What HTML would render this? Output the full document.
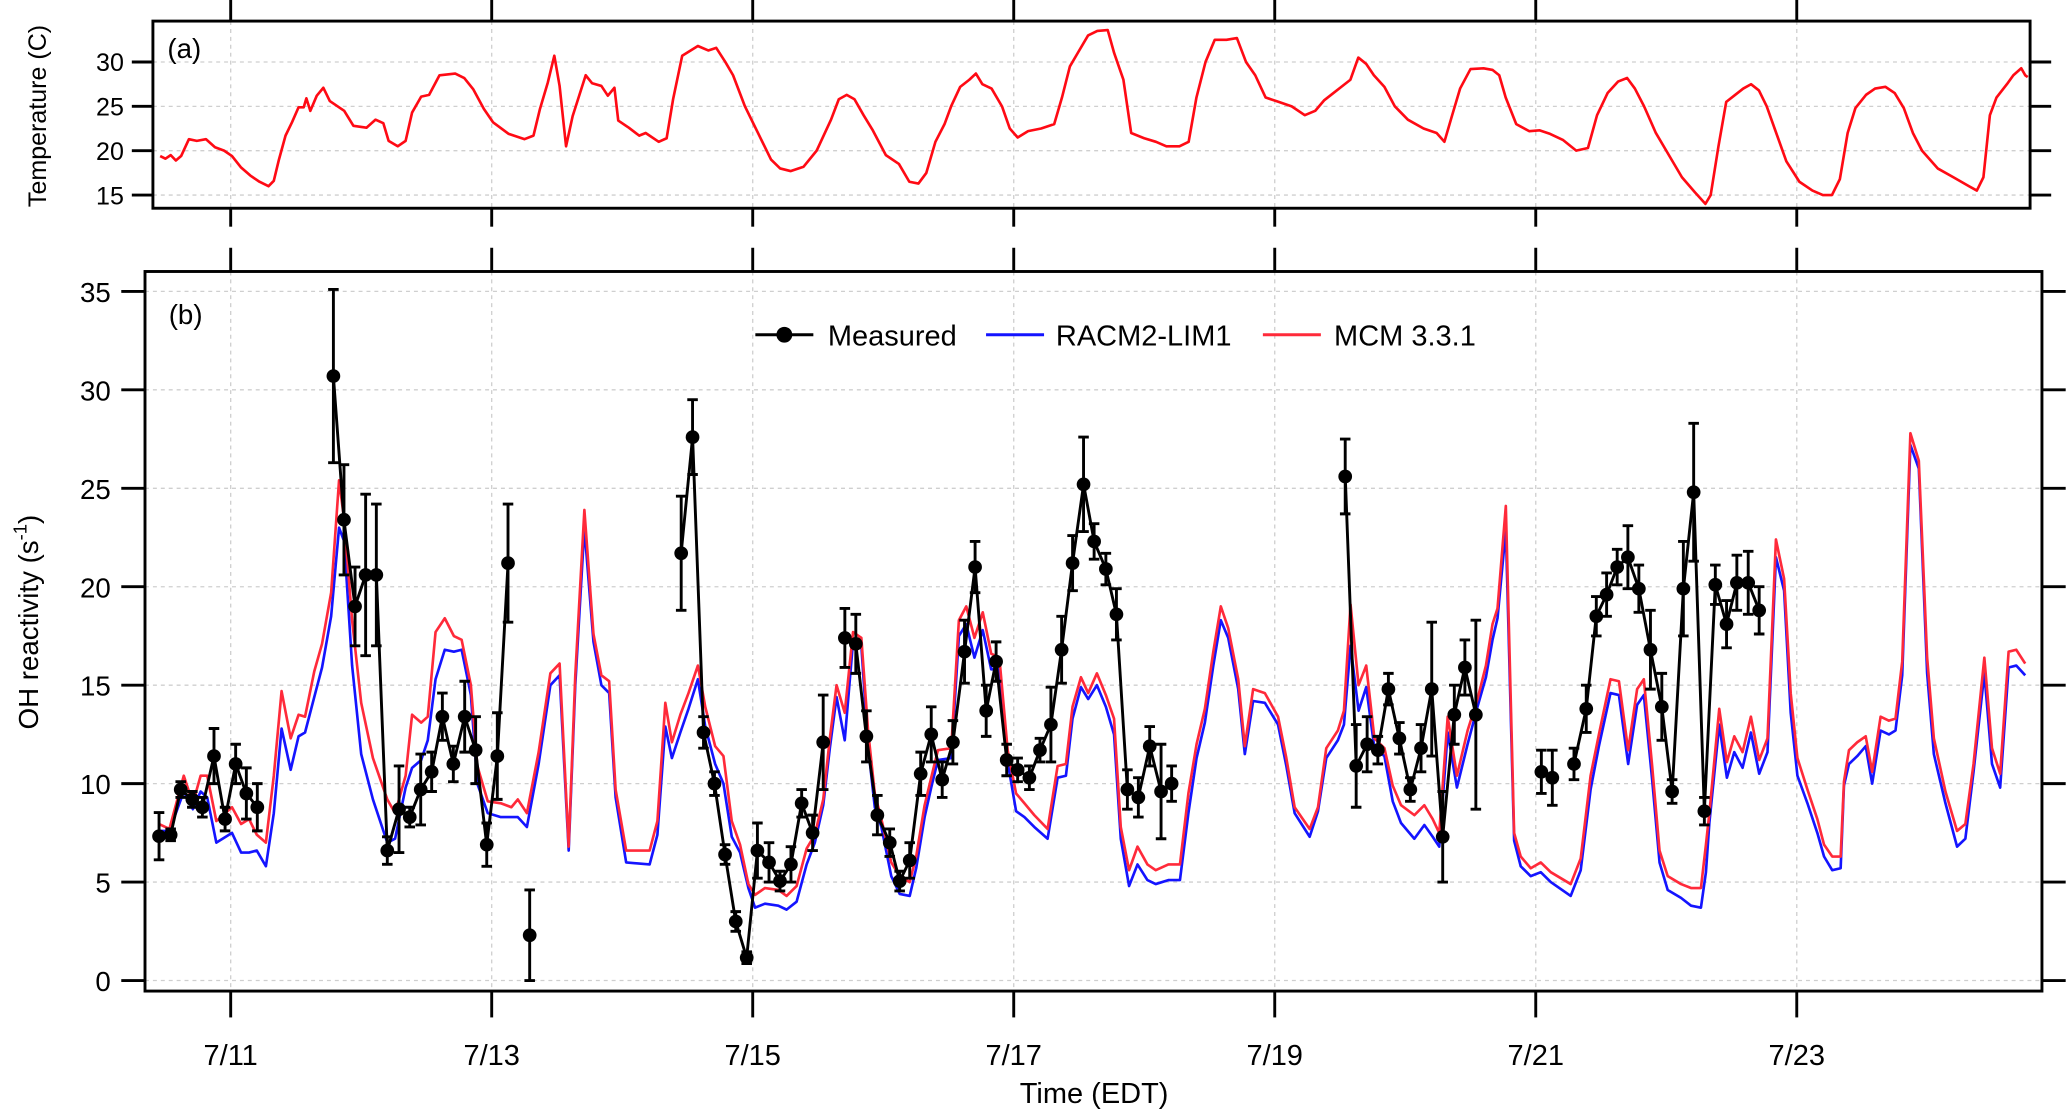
<!DOCTYPE html>
<html><head><meta charset="utf-8"><style>
html,body{margin:0;padding:0;background:#fff;}
svg{display:block;font-family:"Liberation Sans",Arial,sans-serif;}
</style></head><body>
<svg id="chart" width="2067" height="1111" viewBox="0 0 1568 843" preserveAspectRatio="none" xmlns="http://www.w3.org/2000/svg">
<g id="grid"></g>
<g id="frames"></g>
<g id="series"></g>
<text x="127" y="44" font-size="21">(a)</text>
<text x="128" y="246" font-size="21">(b)</text>
<text transform="translate(35,88) rotate(-90)" text-anchor="middle" font-size="19">Temperature (C)</text>
<text transform="translate(29,472) rotate(-90)" text-anchor="middle" font-size="21">OH reactivity (s<tspan dy="-9" font-size="14">-1</tspan><tspan dy="9">)</tspan></text>
<text x="830" y="837" text-anchor="middle" font-size="22">Time (EDT)</text>
<g>
 <g>
  <line x1="573" y1="254" x2="617" y2="254" stroke="#000" stroke-width="2.2"/>
  <circle cx="595" cy="254" r="6" fill="#000"/>
  <text x="628" y="262" font-size="22">Measured</text>
 </g>
 <g>
  <line x1="748" y1="254" x2="792" y2="254" stroke="#1414ff" stroke-width="2.2"/>
  <text x="801" y="262" font-size="22">RACM2-LIM1</text>
 </g>
 <g>
  <line x1="958" y1="254" x2="1002" y2="254" stroke="#ff2a3a" stroke-width="2.2"/>
  <text x="1012" y="262" font-size="22">MCM 3.3.1</text>
 </g>
</g>
</svg>
<script>
// ---- data (time in days of July, local) ----
const dayTicks = [11,13,15,17,19,21,23];
const dayLabels = ["7/11","7/13","7/15","7/17","7/19","7/21","7/23"];
const tempTicks = [15,20,25,30];
const ohTicks = [0,5,10,15,20,25,30,35];

const tempTime = [10.46,10.50,10.54,10.58,10.62,10.68,10.74,10.81,10.88,10.95,11.01,11.08,11.15,11.22,11.29,11.33,11.37,11.42,11.47,11.52,11.56,11.58,11.61,11.66,11.71,11.76,11.87,11.94,12.04,12.11,12.17,12.21,12.28,12.34,12.39,12.46,12.52,12.60,12.72,12.79,12.86,12.94,13.01,13.13,13.25,13.32,13.37,13.43,13.48,13.52,13.57,13.62,13.72,13.77,13.84,13.89,13.94,13.97,14.05,14.13,14.18,14.28,14.34,14.39,14.46,14.58,14.66,14.72,14.79,14.85,14.94,15.04,15.14,15.21,15.29,15.39,15.49,15.60,15.66,15.72,15.78,15.85,15.92,16.02,16.12,16.20,16.27,16.33,16.40,16.47,16.52,16.59,16.66,16.71,16.76,16.83,16.91,16.97,17.03,17.11,17.21,17.31,17.37,17.43,17.49,17.57,17.64,17.72,17.77,17.84,17.90,18.00,18.09,18.17,18.27,18.34,18.40,18.47,18.54,18.63,18.71,18.78,18.85,18.93,19.03,19.13,19.23,19.31,19.38,19.45,19.51,19.58,19.64,19.70,19.76,19.84,19.92,20.02,20.14,20.24,20.30,20.36,20.42,20.50,20.60,20.67,20.72,20.77,20.85,20.95,21.03,21.11,21.21,21.31,21.40,21.47,21.55,21.63,21.70,21.76,21.83,21.92,22.02,22.12,22.22,22.30,22.34,22.40,22.46,22.52,22.59,22.65,22.71,22.77,22.83,22.92,23.02,23.12,23.20,23.27,23.33,23.39,23.45,23.53,23.60,23.68,23.75,23.82,23.89,23.96,24.08,24.20,24.32,24.38,24.43,24.48,24.53,24.61,24.66,24.72,24.75,24.77];
const tempVal = [19.4,19.1,19.5,18.9,19.4,21.3,21.1,21.3,20.4,20.0,19.4,18.1,17.2,16.5,16.0,16.6,19.0,21.7,23.2,24.9,24.9,25.9,24.5,26.2,27.1,25.6,24.5,22.8,22.6,23.5,23.1,21.1,20.5,21.1,24.3,26.1,26.3,28.5,28.7,28.2,26.9,24.7,23.2,21.9,21.3,21.7,24.7,27.7,30.7,27.3,20.5,23.9,28.5,27.6,27.3,26.2,27.1,23.4,22.6,21.7,22.0,21.0,21.4,25.8,30.7,31.8,31.3,31.6,30.0,28.5,25.0,22.0,19.0,18.0,17.7,18.2,20.0,23.5,25.8,26.3,25.8,24.0,22.3,19.5,18.5,16.5,16.3,17.5,21.0,23.0,25.0,27.2,28.0,28.7,27.5,27.0,25.0,22.5,21.5,22.2,22.5,23.0,26.0,29.5,31.0,33.0,33.5,33.6,31.0,28.0,22.0,21.4,21.0,20.5,20.5,21.0,26.0,30.0,32.5,32.5,32.7,30.0,28.5,26.0,25.5,25.0,24.0,24.5,25.7,26.5,27.2,28.0,30.5,29.8,28.5,27.2,25.0,23.5,22.5,22.0,21.0,24.0,27.0,29.2,29.3,29.1,28.5,26.0,23.0,22.2,22.3,21.9,21.2,20.0,20.3,24.0,26.5,27.8,28.2,27.0,25.0,22.0,19.5,17.0,15.3,14.0,15.0,20.5,25.5,26.2,27.0,27.5,26.8,25.0,22.5,18.8,16.5,15.5,15.0,15.0,16.8,22.0,24.8,26.3,27.0,27.2,26.5,24.8,22.0,20.0,18.0,17.0,16.0,15.5,17.0,24.0,26.0,27.5,28.5,29.3,28.5,28.3];

const modelTime = [10.45,10.53,10.64,10.71,10.77,10.82,10.89,11.01,11.08,11.14,11.20,11.27,11.33,11.39,11.46,11.52,11.57,11.64,11.70,11.77,11.83,11.87,11.93,12.00,12.09,12.20,12.26,12.34,12.39,12.46,12.51,12.57,12.64,12.71,12.77,12.84,12.89,12.97,13.07,13.15,13.20,13.27,13.36,13.45,13.52,13.59,13.64,13.71,13.78,13.84,13.90,13.95,14.03,14.21,14.27,14.330,14.381,14.445,14.508,14.580,14.636,14.712,14.776,14.839,14.903,14.967,15.018,15.094,15.196,15.260,15.336,15.413,15.476,15.540,15.591,15.642,15.705,15.769,15.832,15.884,15.935,15.986,16.062,16.126,16.203,16.253,16.317,16.368,16.419,16.521,16.580,16.636,16.699,16.763,16.827,16.890,16.954,17.018,17.082,17.158,17.260,17.336,17.400,17.451,17.515,17.571,17.637,17.706,17.769,17.820,17.884,17.948,18.024,18.088,18.185,18.274,18.338,18.401,18.465,18.529,18.587,18.643,18.720,18.771,18.834,18.924,19.025,19.089,19.153,19.268,19.331,19.395,19.484,19.530,19.581,19.642,19.701,19.764,19.840,19.904,19.968,20.070,20.146,20.210,20.261,20.325,20.396,20.478,20.554,20.618,20.669,20.707,20.771,20.834,20.885,20.962,21.038,21.115,21.268,21.344,21.420,21.484,21.573,21.637,21.708,21.777,21.828,21.892,21.948,22.011,22.113,22.190,22.266,22.304,22.330,22.406,22.465,22.521,22.585,22.648,22.712,22.776,22.840,22.903,22.954,23.005,23.082,23.158,23.209,23.272,23.336,23.362,23.400,23.464,23.528,23.578,23.642,23.706,23.757,23.808,23.871,23.935,23.999,24.050,24.139,24.228,24.292,24.355,24.437,24.496,24.559,24.623,24.682,24.750];
const mcmVal = [7.95,7.7,10.4,9.0,10.4,10.4,8.1,8.8,7.95,8.2,7.4,7.0,10.4,14.7,12.3,13.5,13.4,15.7,17.1,19.7,25.4,23.4,18.3,14.1,11.3,9.2,8.5,10.4,13.5,13.1,13.4,17.7,18.4,17.5,17.3,15.0,10.9,9.1,9.0,8.8,9.2,8.5,11.6,15.6,16.1,6.8,15.5,23.9,17.6,15.5,15.2,9.7,6.6,6.6,8.1,14.1,12.1,13.5,14.6,16.0,13.9,11.9,11.4,8.1,6.9,4.9,4.35,4.7,4.6,4.3,4.8,6.7,7.4,9.2,12.3,15.0,13.6,17.7,17.4,12.7,9.5,8.2,6.0,5.3,5.0,6.3,8.9,10.3,11.7,11.8,18.3,19.0,17.4,18.7,16.6,16.4,11.7,9.5,9.0,8.4,7.7,10.9,11.0,13.9,15.4,14.6,15.6,14.5,13.3,7.8,5.6,6.8,5.9,5.6,5.9,5.9,9.5,12.0,13.8,16.7,19.0,17.9,15.3,11.9,14.8,14.6,13.4,11.3,8.8,7.7,8.8,11.8,12.7,13.7,19.1,15.0,16.0,12.3,11.8,9.9,8.9,8.4,8.9,8.2,7.5,13.4,10.4,12.7,14.3,16.0,18.1,18.9,24.1,7.5,6.3,5.7,6.0,5.5,4.9,6.2,10.4,12.5,15.3,15.2,11.7,14.8,15.3,10.9,6.6,5.3,4.9,4.7,4.7,6.9,8.5,13.8,11.1,12.4,11.6,13.4,11.2,12.3,22.4,20.4,14.6,11.3,9.7,8.2,6.9,6.3,6.3,10.1,11.7,12.1,12.4,10.6,13.4,13.2,13.3,16.2,27.8,26.4,16.4,12.3,9.6,7.6,7.95,11.0,16.4,11.8,10.5,16.7,16.8,16.1];
const racmVal = [7.6,7.6,9.6,8.7,9.6,9.3,7.0,7.5,6.5,6.5,6.6,5.8,8.5,12.8,10.7,12.4,12.6,14.4,15.9,18.5,23.0,22.3,16.0,11.5,9.2,7.0,7.2,9.8,10.8,11.2,12.2,15.3,16.8,16.7,16.8,14.5,10.0,8.5,8.3,8.3,8.3,7.8,11.0,15.0,15.5,6.6,15.0,23.0,17.2,15.0,14.6,9.3,6.0,5.9,7.4,12.9,11.3,12.6,13.8,15.3,12.9,11.0,10.0,7.3,6.5,4.7,3.7,3.9,3.8,3.6,4.0,5.9,7.0,8.9,11.8,14.4,12.2,17.2,17.0,11.9,8.8,7.8,5.3,4.4,4.3,5.7,8.3,9.8,11.2,11.3,17.5,18.1,16.4,17.8,15.8,15.8,11.1,8.6,8.3,7.8,7.2,10.3,10.4,13.3,14.9,14.3,15.0,13.9,12.5,7.2,4.8,5.9,5.1,4.9,5.1,5.1,8.5,11.3,13.1,16.0,18.3,17.4,14.8,11.5,14.2,14.1,13.0,10.9,8.5,7.3,8.6,11.3,12.2,13.0,17.0,13.7,14.9,11.8,11.4,9.1,8.0,7.2,7.9,7.3,6.8,12.6,9.8,12.0,13.9,15.4,17.3,18.4,22.9,7.1,5.8,5.3,5.5,5.0,4.3,5.6,9.7,11.9,14.6,14.5,11.0,14.0,14.5,10.2,6.0,4.6,4.2,3.8,3.7,5.5,8.0,13.0,10.3,11.6,10.8,12.6,10.5,11.6,21.5,19.8,13.6,10.4,9.0,7.5,6.3,5.6,5.7,9.9,11.0,11.4,11.9,10.0,12.7,12.5,12.7,15.5,27.2,26.0,15.6,11.5,9.0,6.8,7.2,10.6,15.6,11.0,9.8,15.9,16.0,15.5];

const measTime = [10.451,10.540,10.617,10.706,10.783,10.872,10.957,11.038,11.120,11.204,11.787,11.868,11.953,12.034,12.116,12.200,12.290,12.372,12.456,12.540,12.622,12.706,12.793,12.877,12.962,13.043,13.125,13.291,14.452,14.539,14.623,14.707,14.788,14.870,14.954,15.036,15.125,15.209,15.293,15.375,15.459,15.540,15.706,15.790,15.871,15.955,16.050,16.126,16.203,16.287,16.368,16.452,16.534,16.623,16.704,16.789,16.865,16.946,17.030,17.120,17.201,17.285,17.367,17.451,17.535,17.616,17.706,17.787,17.871,17.955,18.042,18.129,18.210,19.540,19.624,19.708,19.790,19.871,19.955,20.039,20.121,20.203,20.287,20.376,20.457,20.541,21.043,21.127,21.293,21.387,21.464,21.543,21.624,21.706,21.790,21.879,21.966,22.045,22.131,22.210,22.292,22.376,22.462,22.541,22.628,22.712];
const measVal = [7.33,7.4,9.7,9.2,8.8,11.4,8.2,11.0,9.5,8.8,30.7,23.4,19.0,20.6,20.6,6.6,8.7,8.3,9.7,10.6,13.4,11.0,13.4,11.7,6.9,11.4,21.2,2.3,21.7,27.6,12.6,10.0,6.4,3.0,1.16,6.6,6.0,5.05,5.9,9.0,7.5,12.1,17.4,17.1,12.4,8.4,7.0,5.05,6.1,10.5,12.5,10.2,12.1,16.7,21.0,13.7,16.2,11.2,10.7,10.3,11.7,13.0,16.8,21.2,25.2,22.3,20.9,18.6,9.7,9.3,11.9,9.6,10.0,25.6,10.9,12.0,11.7,14.8,12.3,9.7,11.8,14.8,7.3,13.5,15.9,13.5,10.6,10.3,11.0,13.8,18.5,19.6,21.0,21.5,19.9,16.8,13.9,9.6,19.9,24.8,8.6,20.1,18.1,20.2,20.2,18.8];
const measErr = [1.2,0.3,0.4,0.4,0.5,1.4,0.6,1.0,1.3,1.2,4.4,2.8,2.0,4.1,3.6,0.7,2.2,0.5,1.8,1.0,1.2,0.9,1.8,1.7,1.1,2.2,3.0,2.3,2.9,1.9,0.8,0.6,0.5,0.5,0.3,1.4,1.0,0.5,0.9,0.7,0.9,2.4,1.5,1.5,1.3,1.0,0.7,0.5,0.9,1.1,1.4,0.9,1.1,1.6,1.3,1.3,1.0,0.8,0.6,0.6,0.6,1.9,1.7,1.4,2.4,0.9,0.8,1.3,1.0,1.0,1.0,2.4,0.9,1.9,2.1,1.4,0.7,0.8,0.8,0.6,1.2,3.4,2.3,1.5,1.4,4.8,1.1,1.4,0.8,1.2,1.0,1.1,0.9,1.6,1.2,2.0,1.7,0.6,2.4,3.5,0.7,1.0,1.2,1.4,1.6,1.2];

// ---- axes ----
const NS = "http://www.w3.org/2000/svg";
const xDay = t => 175 + (t - 11) * 99;
const yTemp = v => 148 - (v - 15) * 6.73;
const yOH = v => 744 - v * 14.94;
const A = {l:116, r:1540, t:16, b:158};
const B = {l:110, r:1549, t:206, b:752};

function mk(tag, attrs, parent){
  const e = document.createElementNS(NS, tag);
  for (const k in attrs) e.setAttribute(k, attrs[k]);
  parent.appendChild(e);
  return e;
}
const grid = document.getElementById('grid');
const frames = document.getElementById('frames');
const series = document.getElementById('series');
const gs = {stroke:"#cfcfcf", "stroke-width":1, "stroke-dasharray":"3,3"};

// gridlines
dayTicks.forEach(d => {
  const x = xDay(d);
  const g1 = mk('line', Object.assign({x1:x,x2:x,y1:A.t,y2:A.b}, gs), grid);
  
  
  const g2 = mk('line', Object.assign({x1:x,x2:x,y1:B.t,y2:B.b}, gs), grid);
  
  
});
tempTicks.forEach(v => {
  const y = yTemp(v);
  const g = mk('line', Object.assign({x1:A.l,x2:A.r,y1:y,y2:y}, gs), grid);
  
  
});
ohTicks.forEach(v => {
  const y = yOH(v);
  const g = mk('line', Object.assign({x1:B.l,x2:B.r,y1:y,y2:y}, gs), grid);
  
  
});

// frames
const fa = mk('rect', {x:A.l,y:A.t,width:A.r-A.l,height:A.b-A.t,fill:"none",stroke:"#000","stroke-width":2.2}, frames);


const fb = mk('rect', {x:B.l,y:B.t,width:B.r-B.l,height:B.b-B.t,fill:"none",stroke:"#000","stroke-width":2.2}, frames);



const ts = {stroke:"#000","stroke-width":2.2};
dayTicks.forEach((d,i) => {
  const x = xDay(d);
  mk('line', Object.assign({x1:x,x2:x,y1:0,y2:A.t}, ts), frames);
  mk('line', Object.assign({x1:x,x2:x,y1:A.b,y2:A.b+14}, ts), frames);
  mk('line', Object.assign({x1:x,x2:x,y1:B.t-18,y2:B.t}, ts), frames);
  mk('line', Object.assign({x1:x,x2:x,y1:B.b,y2:B.b+20}, ts), frames);
  const lab = mk('text', {x:x, y:808, "text-anchor":"middle", "font-size":22}, frames);
  lab.textContent = dayLabels[i];
  
  
});
tempTicks.forEach(v => {
  const y = yTemp(v);
  mk('line', Object.assign({x1:A.l-16,x2:A.l,y1:y,y2:y}, ts), frames);
  mk('line', Object.assign({x1:A.r,x2:A.r+16,y1:y,y2:y}, ts), frames);
  const lab = mk('text', {x:A.l-22, y:y+7, "text-anchor":"end", "font-size":19}, frames);
  lab.textContent = v;
  
  
});
ohTicks.forEach(v => {
  const y = yOH(v);
  mk('line', Object.assign({x1:B.l-18,x2:B.l,y1:y,y2:y}, ts), frames);
  mk('line', Object.assign({x1:B.r,x2:B.r+18,y1:y,y2:y}, ts), frames);
  const lab = mk('text', {x:B.l-26, y:y+8, "text-anchor":"end", "font-size":21}, frames);
  lab.textContent = v;
  
  
});

// series
function pathFrom(times, vals, yf){
  return times.map((t,i) => (i?'L':'M') + xDay(t).toFixed(1) + ',' + yf(vals[i]).toFixed(1)).join('');
}
const tl = mk('path', {d:pathFrom(tempTime,tempVal,yTemp), fill:"none", stroke:"#ff0a14", "stroke-width":2, "stroke-linejoin":"round"}, series);


const bl = mk('path', {d:pathFrom(modelTime,racmVal,yOH), fill:"none", stroke:"#1414ff", "stroke-width":2, "stroke-linejoin":"round"}, series);


const rl = mk('path', {d:pathFrom(modelTime,mcmVal,yOH), fill:"none", stroke:"#ff2a3a", "stroke-width":2, "stroke-linejoin":"round"}, series);



// measured: connect consecutive points with gaps < 0.15 day
let d = '';
measTime.forEach((t,i) => {
  const p = xDay(t).toFixed(1) + ',' + yOH(measVal[i]).toFixed(1);
  d += (i === 0 || t - measTime[i-1] > 0.15 ? 'M' : 'L') + p;
});
const ml = mk('path', {d:d, fill:"none", stroke:"#000", "stroke-width":2.2, "stroke-linejoin":"round"}, series);


measTime.forEach((t,i) => {
  const x = xDay(t), y1 = yOH(measVal[i]-measErr[i]), y2 = yOH(measVal[i]+measErr[i]);
  const eb = mk('path', {d:`M${x},${y1}L${x},${y2}M${x-4},${y1}L${x+4},${y1}M${x-4},${y2}L${x+4},${y2}`, stroke:"#000","stroke-width":2.2, fill:"none"}, series);
  
  
  const c = mk('circle', {cx:x, cy:yOH(measVal[i]), r:5.2, fill:"#000"}, series);
  
  
});
</script>
</body></html>
